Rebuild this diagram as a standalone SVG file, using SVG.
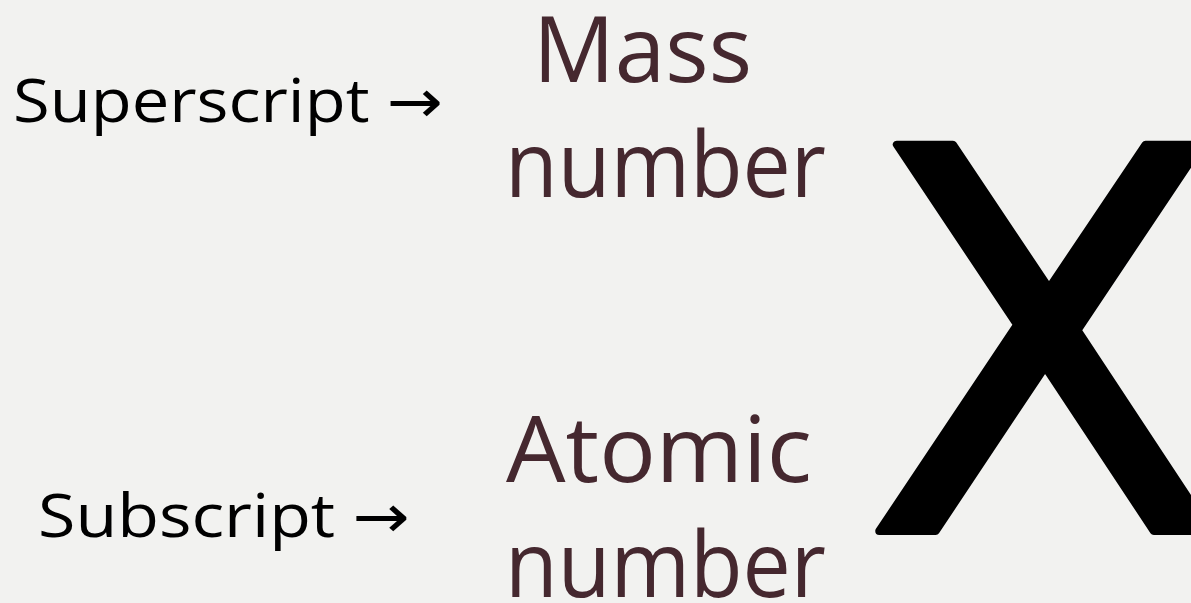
<svg xmlns="http://www.w3.org/2000/svg" width="1191" height="603" viewBox="0 0 1191 603">
<style>
.lbl{font-family:"Open Sans","DejaVu Sans",sans-serif;font-size:60px;fill:#000}
.big{font-family:"Open Sans","DejaVu Sans",sans-serif;font-size:92px;fill:#45282f}
.x{font-family:"DejaVu Sans",sans-serif;font-size:530px;fill:#000;stroke:#000;stroke-width:8;stroke-linejoin:round}
</style>
<rect width="1191" height="603" fill="#f2f2f0"/>
<g id="superscript"><text class="lbl" x="13" y="122" textLength="430" lengthAdjust="spacingAndGlyphs">Superscript →</text></g>
<g id="subscript"><text class="lbl" x="38" y="537" textLength="372" lengthAdjust="spacingAndGlyphs">Subscript →</text></g>
<g id="mass-number">
<text class="big" x="533" y="82" textLength="219" lengthAdjust="spacingAndGlyphs">Mass</text>
<text class="big" x="505" y="197" textLength="321" lengthAdjust="spacingAndGlyphs">number</text>
</g>
<g id="atomic-number">
<text class="big" x="506" y="482" textLength="306" lengthAdjust="spacingAndGlyphs">Atomic</text>
<text class="big" x="505" y="597" textLength="321" lengthAdjust="spacingAndGlyphs">number</text>
</g>
<g id="element"><text class="x" x="1045" y="531" text-anchor="middle">X</text></g>
</svg>
